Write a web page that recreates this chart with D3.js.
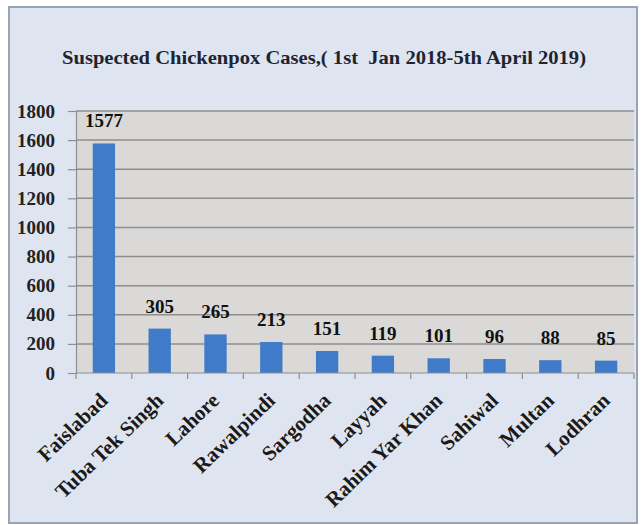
<!DOCTYPE html>
<html>
<head>
<meta charset="utf-8">
<script src="https://cdn.jsdelivr.net/npm/d3@7"></script>
<style>
  html, body { margin: 0; padding: 0; background: #ffffff; }
  svg { display: block; }
</style>
</head>
<body>
<svg id="chart" width="641" height="525"></svg>
<script>
const title = "Suspected Chickenpox Cases,( 1st  Jan 2018-5th April 2019)";
const categories = ["Faislabad", "Tuba Tek Singh", "Lahore", "Rawalpindi", "Sargodha", "Layyah", "Rahim Yar Khan", "Sahiwal", "Multan", "Lodhran"];
const cases = [1577, 305, 265, 213, 151, 119, 101, 96, 88, 85];
const yTicks = [0, 200, 400, 600, 800, 1000, 1200, 1400, 1600, 1800];

const svg = d3.select("#chart");
const serif = "'Liberation Serif', 'Times New Roman', serif";

// chart frame
svg.append("rect").attr("x", 9).attr("y", 7).attr("width", 628).attr("height", 516)
  .attr("fill", "#dfe5f0").attr("stroke", "#98a3b5").attr("stroke-width", 2);

const plot = { left: 76, right: 634, top: 111, bottom: 373 };

const x = d3.scaleBand().domain(categories).range([plot.left, plot.right])
  .paddingInner(0.6).paddingOuter(0.3);
const y = d3.scaleLinear().domain([0, 1800]).range([plot.bottom, plot.top]);

// plot area
svg.append("rect").attr("x", plot.left).attr("y", plot.top)
  .attr("width", plot.right - plot.left).attr("height", plot.bottom - plot.top)
  .attr("fill", "#dad9d8");

// gridlines
svg.append("g").selectAll("line").data(yTicks.slice(1)).join("line")
  .attr("x1", plot.left).attr("x2", plot.right)
  .attr("y1", d => y(d)).attr("y2", d => y(d))
  .attr("stroke", "#8e8e8e").attr("stroke-width", 1.5);

// y axis
const yAxis = svg.append("g").attr("transform", `translate(${plot.left},0)`)
  .call(d3.axisLeft(y).tickValues(yTicks).tickSize(8).tickPadding(13).tickFormat(d3.format("d")));
yAxis.select(".domain").attr("stroke", "#8e8e8e").attr("stroke-width", 1.2);
yAxis.selectAll(".tick line").attr("stroke", "#8e8e8e").attr("stroke-width", 1.2);
yAxis.selectAll(".tick text").attr("font-family", serif).attr("font-weight", "bold")
  .attr("font-size", 19).attr("fill", "#222");

// bars
svg.append("g").selectAll("rect").data(categories).join("rect")
  .attr("x", d => x(d)).attr("width", x.bandwidth())
  .attr("y", (d, i) => y(cases[i])).attr("height", (d, i) => y(0) - y(cases[i]))
  .attr("fill", "#3f7bc8");

// x axis line + ticks at band boundaries
svg.append("line").attr("x1", plot.left).attr("x2", plot.right)
  .attr("y1", y(0)).attr("y2", y(0)).attr("stroke", "#8e8e8e").attr("stroke-width", 1.2);
const bounds = d3.range(categories.length + 1).map(i => plot.left + i * x.step());
svg.append("g").selectAll("line").data(bounds).join("line")
  .attr("x1", d => d).attr("x2", d => d).attr("y1", y(0)).attr("y2", y(0) + 6)
  .attr("stroke", "#8e8e8e").attr("stroke-width", 1.2);

// value labels
svg.append("g").selectAll("text").data(categories).join("text")
  .attr("x", d => x(d) + x.bandwidth() / 2)
  .attr("y", (d, i) => y(cases[i]) - 16)
  .attr("text-anchor", "middle")
  .attr("font-family", serif).attr("font-weight", "bold").attr("font-size", 19)
  .attr("fill", "#111")
  .text((d, i) => cases[i]);

// category labels
svg.append("g").selectAll("text").data(categories).join("text")
  .attr("transform", d => `translate(${x(d) + x.bandwidth() / 2 + 5},${y(0) + 29}) rotate(-44)`)
  .attr("text-anchor", "end")
  .attr("font-family", serif).attr("font-weight", "bold").attr("font-size", 21)
  .attr("fill", "#1a1a1a")
  .text(d => d);

// title
svg.append("text").attr("x", 324).attr("y", 64).attr("text-anchor", "middle")
  .attr("font-family", serif).attr("font-weight", "bold").attr("font-size", 19)
  .attr("textLength", 524).attr("lengthAdjust", "spacingAndGlyphs")
  .style("white-space", "pre")
  .attr("fill", "#1e2430")
  .text(title);
</script>
</body>
</html>
